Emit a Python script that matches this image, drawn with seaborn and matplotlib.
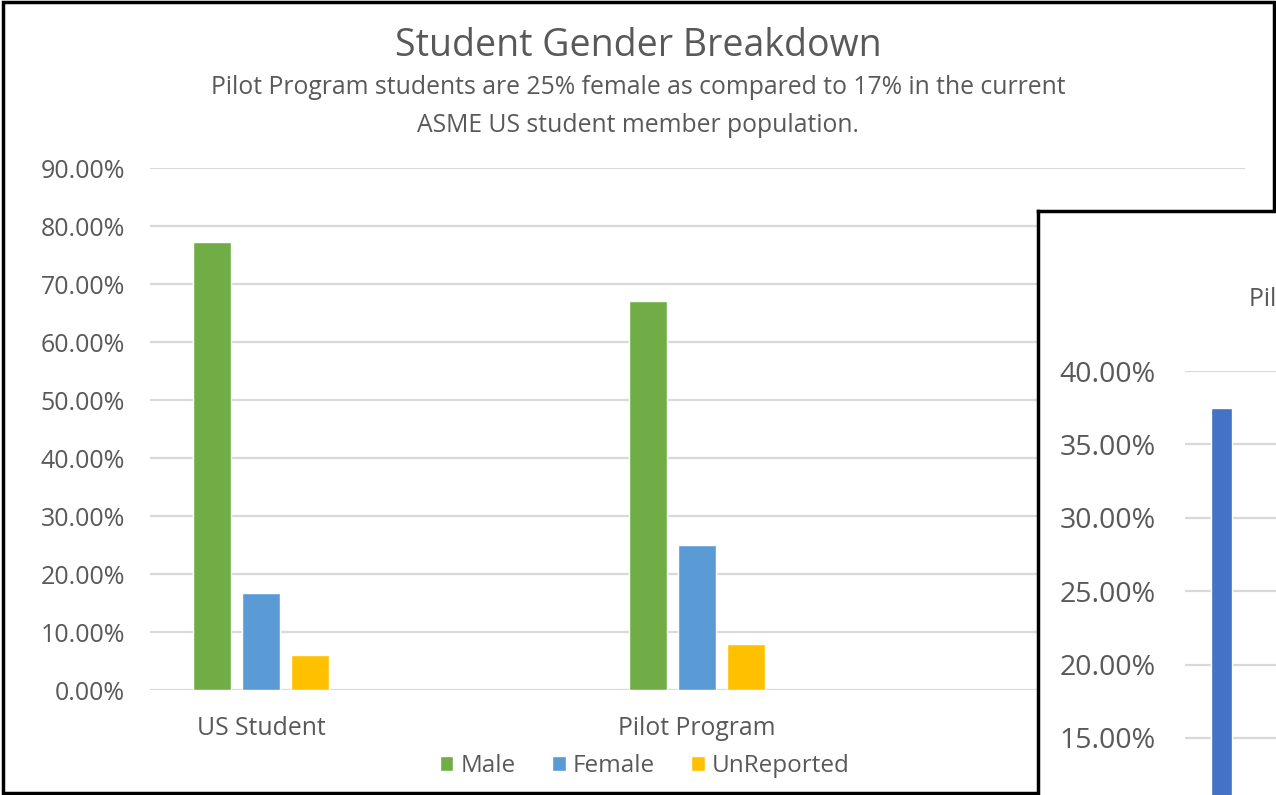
import pandas as pd
import matplotlib.pyplot as plt
import seaborn as sns
from matplotlib.patches import Rectangle
from matplotlib.ticker import PercentFormatter

sns.set_style("white")
plt.rcParams['font.family'] = ['Open Sans', 'DejaVu Sans']

# data
groups = ['US Student', 'Pilot Program']
genders = ['Male', 'Female', 'UnReported']
male = [0.772, 0.670]
female = [0.167, 0.250]
unreported = [0.060, 0.080]
colors = ['#70AD47', '#5B9BD5', '#FFC000']

# second chart, only a sliver is visible on the right
inset_cats = ['Pilot Program']
inset_vals = [0.375]

rows = []
for i, g in enumerate(groups):
    for gen, vals in zip(genders, [male, female, unreported]):
        rows.append({'group': g, 'gender': gen, 'share': vals[i]})
df = pd.DataFrame(rows)

W, H = 1276, 795
fig = plt.figure(figsize=(W / 100, H / 100), dpi=100)
fig.patch.set_facecolor('white')

tick_col = '#595959'
grid_col = '#D9D9D9'

# main chart
ax = fig.add_axes([150 / W, 105 / H, 1095 / W, 522 / H])
sns.barplot(data=df, x='group', y='share', hue='gender', hue_order=genders,
            palette=colors, width=0.337, gap=0.22, ax=ax, saturation=1)
ax.set_xlim(-0.255, 2.257)
ax.set_ylim(0, 0.9)
ax.set_yticks([i / 10 for i in range(10)])
ax.yaxis.set_major_formatter(PercentFormatter(1.0, decimals=2))
ax.grid(axis='y', color=grid_col, linewidth=1.6)
ax.set_axisbelow(True)
for s in ax.spines.values():
    s.set_visible(False)
ax.tick_params(axis='y', length=0, pad=18, labelsize=18, labelcolor=tick_col)
ax.tick_params(axis='x', length=0, pad=19, labelsize=17.8, labelcolor=tick_col)
ax.set_xlabel('')
ax.set_ylabel('')

handles, labels = ax.get_legend_handles_labels()
ax.legend_.remove()
fig.legend(handles, labels, loc='center', bbox_to_anchor=(645 / W, 29 / H),
           ncol=3, frameon=False, fontsize=17.5, handlelength=0.55,
           handleheight=0.55, handletextpad=0.3, columnspacing=1.5,
           labelcolor=tick_col)

fig.text(638 / W, 1 - 46 / H, 'Student Gender Breakdown', ha='center',
         va='center', fontsize=27, color='#595959')
fig.text(638 / W, 1 - 87 / H,
         'Pilot Program students are 25% female as compared to 17% in the current',
         ha='center', va='center', fontsize=17.8, color=tick_col)
fig.text(638 / W, 1 - 125 / H, 'ASME US student member population.',
         ha='center', va='center', fontsize=17.8, color=tick_col)

# outer frame of the screenshot
fig.patches.append(Rectangle((3 / W, 2 / H), 1271 / W, 791 / H,
                             transform=fig.transFigure, fill=False,
                             edgecolor='black', linewidth=2.5, zorder=5))

# overlapping second chart panel
panel = fig.add_axes([1038 / W, 0, 1 - 1038 / W, (H - 211) / H], zorder=10)
panel.set_facecolor('white')
panel.set_xticks([])
panel.set_yticks([])
panel.set_xlim(0, 1)
panel.set_ylim(0, 1)
for k in ['right', 'bottom']:
    panel.spines[k].set_visible(False)
for k in ['left', 'top']:
    panel.spines[k].set_color('black')
    panel.spines[k].set_linewidth(2.5)
panel.text((1249 - 1038) / (W - 1038), 1 - (300 - 211) / (H - 211), 'Pilot Program',
           ha='left', va='center', fontsize=17.8, color=tick_col, clip_on=True)

# 0% sits below the visible area: 5% = 73.4 px, 40% at y=371
zero_y = 371 + 8 * 73.4
iax = fig.add_axes([1185 / W, (H - zero_y) / H, 1 - 1185 / W, (zero_y - 371) / H], zorder=11)
idf = pd.DataFrame({'cat': inset_cats, 'val': inset_vals})
sns.barplot(data=idf, x='cat', y='val', color='#4472C4', saturation=1,
            width=0.6, ax=iax)
iax.set_xlim(-1.043, 1.557)
iax.set_ylim(0, 0.40)
iax.set_yticks([0.15, 0.20, 0.25, 0.30, 0.35, 0.40])
iax.yaxis.set_major_formatter(PercentFormatter(1.0, decimals=2))
iax.grid(axis='y', color=grid_col, linewidth=1.6)
iax.set_axisbelow(True)
iax.patch.set_alpha(0)
for s in iax.spines.values():
    s.set_visible(False)
iax.tick_params(axis='y', length=0, pad=21, labelsize=20.5, labelcolor=tick_col)
iax.set_xticks([])
iax.set_xlabel('')
iax.set_ylabel('')

fig.savefig('out.png', dpi=100)
